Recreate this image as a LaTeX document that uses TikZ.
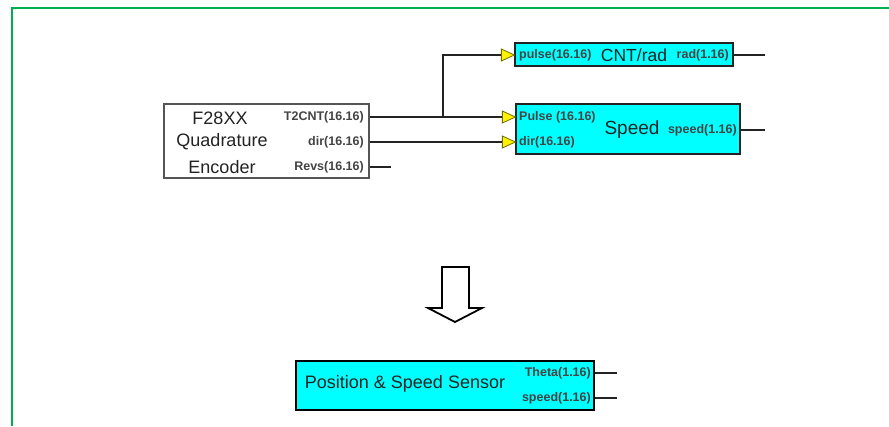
\documentclass[tikz,border=0pt]{standalone}
\usepackage{fontspec}
\setmainfont{Liberation Sans}
\usetikzlibrary{calc}
\definecolor{framegreen}{RGB}{0,176,80}
\definecolor{blk}{RGB}{35,35,35}
\definecolor{cyanf}{RGB}{0,255,255}
\definecolor{yel}{RGB}{255,242,0}
\definecolor{yelb}{RGB}{110,110,0}
\definecolor{encb}{RGB}{85,85,85}
\begin{document}
\begin{tikzpicture}[x=1pt,y=-1pt,
  wire/.style={draw=blk, line width=1.3pt},
  block/.style={draw=blk, line width=1.3pt, fill=cyanf, inner sep=0pt},
  encbox/.style={draw=encb, line width=1.2pt, fill=white, inner sep=0pt},
  port/.style={font=\fontsize{12.5}{12.5}\selectfont\bfseries, inner sep=0pt, text=blk!85},
  big/.style={font=\fontsize{18}{18}\selectfont, inner sep=0pt, text=blk},
  tri/.style={fill=yel, draw=yelb, line width=0.8pt, line join=miter},
  hollow/.style={draw=black, line width=1.8pt, fill=white, line join=miter}]

\useasboundingbox (0,0) rectangle (889,426);
\draw[framegreen, line width=2.2pt] (12,426) -- (12,8) -- (889,8);

% encoder block
\node[encbox, minimum width=205pt, minimum height=74pt] (enc) at (266.5,141) {};
\node[big] (encA) at (220,118) {F28XX};
\node[big] (encB) at (222,142) {Quadrature};
\node[big] (encC) at (222,167) {Encoder};
\node[port, anchor=east] (encT) at (364,117) {T2CNT(16.16)};
\node[port, anchor=east] (encD) at (364,142) {dir(16.16)};
\node[port, anchor=east] (encR) at (364,167) {Revs(16.16)};

% CNT/rad block
\node[block, minimum width=218pt, minimum height=23pt] (cnt) at (624,54.5) {};
\node[port, anchor=west] (cntP) at (519,55) {pulse(16.16)};
\node[big, font=\fontsize{17.5}{17.5}\selectfont] (cntL) at (634,55) {CNT/rad};
\node[port, anchor=east] (cntR) at (729,55) {rad(1.16)};

% Speed block
\node[block, minimum width=224pt, minimum height=50pt] (spd) at (628,129) {};
\node[port, anchor=west] (spdP) at (519,117) {Pulse (16.16)};
\node[port, anchor=west] (spdD) at (519,142) {dir(16.16)};
\node[big, font=\fontsize{19}{19}\selectfont] (spdL) at (632,130) {Speed};
\node[port, anchor=east] (spdS) at (737,130) {speed(1.16)};

% input triangles
\coordinate (tip1) at (cnt.west |- cntP);
\coordinate (tip2) at (spd.west |- spdP);
\coordinate (tip3) at (spd.west |- spdD);
\foreach \t in {tip1,tip2,tip3}{
  \draw[tri] (\t) -- ++(-13,-6) -- ++(0,12) -- cycle;
}
\coordinate (back1) at ($(tip1)+(-13,0)$);
\coordinate (back2) at ($(tip2)+(-13,0)$);
\coordinate (back3) at ($(tip3)+(-13,0)$);

% wires
\coordinate (junc) at (443,117);
\draw[wire] (enc.east |- encT) -- (back2);
\draw[wire] (junc) |- (back1);
\draw[wire] (enc.east |- encD) -- (back3);
\coordinate (revsEnd) at (391,167);
\draw[wire] (enc.east |- encR) -- (revsEnd);
\coordinate (cntOut) at (765,55);
\draw[wire] (cnt.east |- cntOut) -- (cntOut);
\coordinate (spdOut) at (765,130);
\draw[wire] (spd.east |- spdOut) -- (spdOut);

% hollow down arrow
\draw[hollow] (442,267) -- (469,267) -- (469,308) -- (482,308) -- (455,322) -- (428,308) -- (442,308) -- cycle;

% position & speed sensor block
\node[block, line width=2pt, draw=black, minimum width=298pt, minimum height=49pt] (pos) at (445,385.5) {};
\node[big] (posL) at (405,384) {Position \& Speed Sensor};
\node[port, anchor=east] (posT) at (591,373) {Theta(1.16)};
\node[port, anchor=east] (posS) at (591,398) {speed(1.16)};
\coordinate (posTo) at (617,373);
\coordinate (posSo) at (617,398);
\draw[wire] (pos.east |- posT) -- (posTo);
\draw[wire] (pos.east |- posS) -- (posSo);
\end{tikzpicture}
\end{document}
